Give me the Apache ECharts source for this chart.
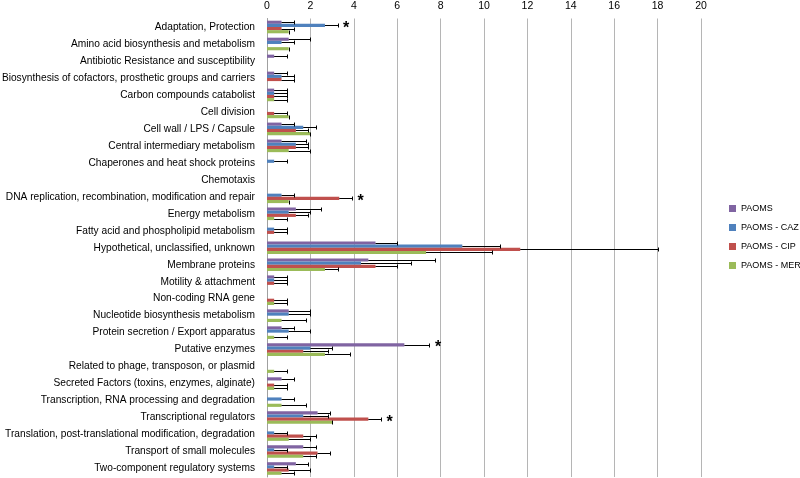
<!DOCTYPE html>
<html><head><meta charset="utf-8">
<script src="https://cdn.jsdelivr.net/npm/echarts@6/dist/echarts.min.js"></script>
<style>html,body{margin:0;padding:0;background:#fff}#c{width:800px;height:478px}</style>
</head><body><div id="c"></div>
<script>
const categories = [
  "Adaptation, Protection",
  "Amino acid biosynthesis and metabolism",
  "Antibiotic Resistance and susceptibility",
  "Biosynthesis of cofactors, prosthetic groups and carriers",
  "Carbon compounds catabolist",
  "Cell division",
  "Cell wall / LPS / Capsule",
  "Central intermediary metabolism",
  "Chaperones and heat shock proteins",
  "Chemotaxis",
  "DNA replication, recombination, modification and repair",
  "Energy metabolism",
  "Fatty acid and phospholipid metabolism",
  "Hypothetical, unclassified, unknown",
  "Membrane proteins",
  "Motility & attachment",
  "Non-coding RNA gene",
  "Nucleotide biosynthesis metabolism",
  "Protein secretion / Export apparatus",
  "Putative enzymes",
  "Related to phage, transposon, or plasmid",
  "Secreted Factors (toxins, enzymes, alginate)",
  "Transcription, RNA processing and degradation",
  "Transcriptional regulators",
  "Translation, post-translational modification, degradation",
  "Transport of small molecules",
  "Two-component regulatory systems"
];
const seriesNames = ["PAOMS", "PAOMS - CAZ", "PAOMS - CIP", "PAOMS - MER"];

const paoms    = [0.67,1.0,0.33,0.33,0.33,0,0.67,0.67,0,0,0,1.33,0,5.0,4.67,0.33,0,1.0,0.67,6.33,0,0.67,0,2.33,0,1.67,1.33];
const paomsErr = [0.58,1.0,0.58,0.58,0.58,0,0.58,1.15,0,0,0,1.15,0,1.0,3.06,0.58,0,1.0,0.58,1.15,0,0.58,0,0.58,0,0.58,0.58];

const caz      = [2.67,0.67,0,0.67,0.33,0,1.67,1.33,0.33,0,0.67,1.0,0.33,9.0,4.33,0.33,0,1.0,1.0,2.0,0,0,0.67,1.67,0.33,0.33,0.33];
const cazErr   = [0.58,0.58,0,0.58,0.58,0,0.58,0.58,0.58,0,0.58,1.0,0.58,1.73,2.31,0.58,0,1.0,1.0,1.0,0,0,0.58,1.15,0.58,0.58,0.58];

const cip      = [0.67,0,0,0.67,0.33,0.33,1.33,1.33,0,0,3.33,1.33,0.33,11.67,5.0,0.33,0.33,0,0,1.67,0,0.33,0,4.67,1.67,2.33,1.0];
const cipErr   = [0.58,0,0,0.58,0.58,0.58,0.58,0.58,0,0,0.58,0.58,0.58,6.35,1.0,0.58,0.58,0,0,1.15,0,0.58,0,0.58,0.58,0.58,1.0];

const mer      = [1.0,1.0,0,0,0.33,1.0,2.0,1.0,0,0,1.0,0.33,0,7.33,2.67,0,0.33,0.67,0.33,2.67,0.33,0.33,0.67,3.0,1.0,1.67,0.67];
const merErr   = [0,0,0,0,0.58,0,0,1.0,0,0,0,0.58,0,3.06,0.58,0,0.58,1.15,0.58,1.15,0.58,0.58,1.15,0,1.0,0.58,0.58];

const starred = [
  "Adaptation, Protection",
  "DNA replication, recombination, modification and repair",
  "Putative enzymes",
  "Transcriptional regulators"
];

const colors = ["#8064A2", "#4F81BD", "#C0504D", "#9BBB59"];
const FONT = "Liberation Sans";
const BAR_W = 3.15;

const values = [paoms, caz, cip, mer];
const errors = [paomsErr, cazErr, cipErr, merErr];

const errData = [];
values.forEach((arr, s) => arr.forEach((v, i) => {
  if (v > 0) errData.push([v, i, errors[s][i], s]);
}));

const starData = starred.map(name => {
  const i = categories.indexOf(name);
  let best = 0, bs = 0;
  values.forEach((arr, s) => { const t = arr[i] + errors[s][i]; if (t > best) { best = t; bs = s; } });
  return [best, i, bs];
});

const chart = echarts.init(document.getElementById('c'), null, {renderer: 'canvas'});

const barSeries = seriesNames.map((n, s) => ({
  name: n, type: 'bar', data: values[s], barWidth: BAR_W, barGap: '0%',
  itemStyle: {color: colors[s]}, z: 2
}));

chart.setOption({
  animation: false,
  textStyle: {fontFamily: FONT},
  grid: {left: 267, right: 99, top: 18.5, bottom: 1, containLabel: false, outerBoundsMode: 'none'},
  legend: {
    orient: 'vertical', left: 724, top: 199, itemWidth: 7, itemHeight: 7, itemGap: 10,
    icon: 'rect', data: seriesNames,
    textStyle: {fontSize: 9, color: '#000', fontFamily: FONT}
  },
  xAxis: {
    type: 'value', position: 'top', min: 0, max: 20, interval: 2,
    axisLine: {show: false}, axisTick: {show: false},
    splitLine: {lineStyle: {color: '#b5b5b5', width: 1}},
    axisLabel: {fontSize: 10.5, color: '#000', margin: 7, fontFamily: FONT}
  },
  yAxis: {
    type: 'category', inverse: true, data: categories,
    axisLine: {lineStyle: {color: '#a0a0a0'}}, axisTick: {show: false},
    axisLabel: {fontSize: 10.2, color: '#000', margin: 12, interval: 0, fontFamily: FONT}
  },
  series: barSeries.concat([
    {
      type: 'custom', name: 'err', data: errData, encode: {x: 0, y: 1}, z: 5,
      silent: true,
      renderItem: (params, api) => {
        const v = api.value(0), c = api.value(1), e = api.value(2), s = api.value(3);
        const p0 = api.coord([v, c]);
        const p1 = api.coord([v + e, c]);
        const y = Math.round(p0[1] + (s - 1.5) * BAR_W) + 0.5;
        const xe = Math.round(p1[0]) + 0.5;
        const ch = [{type: 'line', shape: {x1: xe, y1: y - 2, x2: xe, y2: y + 2}, style: {stroke: '#000', lineWidth: 1}}];
        if (e > 0) ch.push({type: 'line', shape: {x1: p0[0], y1: y, x2: xe, y2: y}, style: {stroke: '#000', lineWidth: 1}});
        return {type: 'group', children: ch};
      }
    },
    {
      type: 'custom', name: 'star', data: starData, encode: {x: 0, y: 1}, z: 6,
      silent: true,
      renderItem: (params, api) => {
        const x = api.value(0), c = api.value(1), s = api.value(2);
        const p = api.coord([x + 0.4, c]);
        return {type: 'text', style: {
          text: '*', x: p[0], y: p[1] + (s - 1.5) * BAR_W + 3,
          align: 'center', verticalAlign: 'middle',
          fontSize: 16, fontWeight: 'bold', fontFamily: FONT, fill: '#000'
        }};
      }
    }
  ])
});
</script></body></html>
